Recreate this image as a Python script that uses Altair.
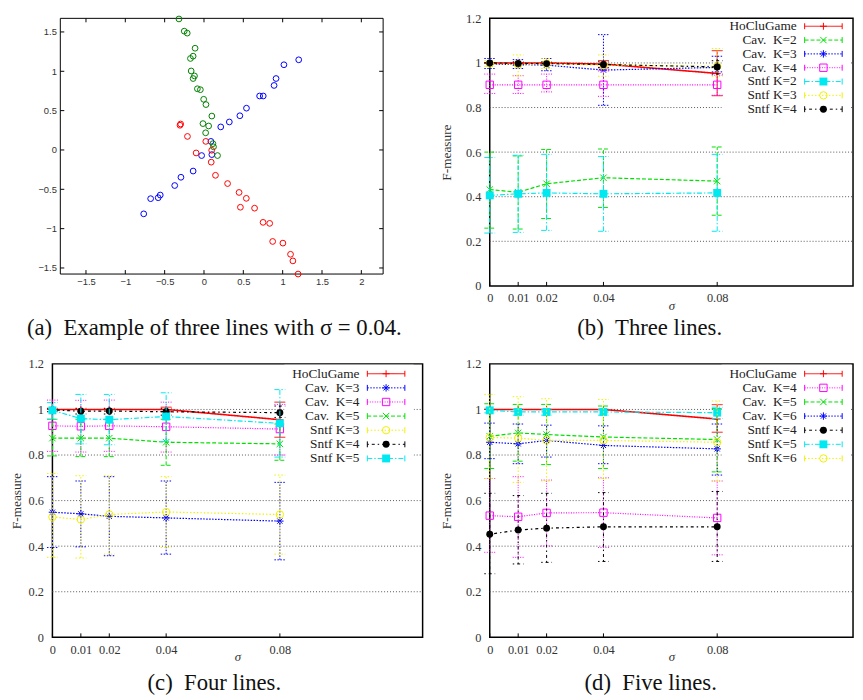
import altair as alt
import pandas as pd

# ---------------- data ----------------
SIGMAS = [0, 0.01, 0.02, 0.04, 0.08]
Y_TICKS = [0, 0.2, 0.4, 0.6, 0.8, 1.0, 1.2]
GRID_Y = [0.2, 0.4, 0.6, 0.8, 1.0]

A_X_TICKS = [-1.5, -1, -0.5, 0, 0.5, 1, 1.5, 2]
A_Y_TICKS = [-1.5, -1, -0.5, 0, 0.5, 1, 1.5]

A_GREEN_X = [-0.318, -0.251, -0.213, -0.113, -0.138, -0.172, -0.163, -0.121, -0.138, -0.084,
             -0.046, -0.004, 0.025, 0.100, -0.013, 0.059, 0.021, 0.113, 0.121, 0.172]
A_GREEN_Y = [1.665, 1.510, 1.485, 1.293, 1.192, 1.163, 1.004, 0.941, 0.908, 0.778,
             0.766, 0.644, 0.577, 0.431, 0.335, 0.305, 0.218, 0.080, 0.040, -0.071]
A_BLUE_X = [1.204, 1.016, 0.916, 0.891, 0.707, 0.753, 0.540, 0.456, 0.322, 0.213,
            0.088, 0.100, -0.030, -0.138, -0.293, -0.372, -0.556, -0.582, -0.678, -0.766]
A_BLUE_Y = [1.146, 1.083, 0.908, 0.820, 0.686, 0.686, 0.531, 0.435, 0.356, 0.293,
            0.109, -0.059, -0.071, -0.268, -0.347, -0.452, -0.573, -0.607, -0.619, -0.812]
A_RED_X = [-0.297, -0.305, -0.210, 0.023, -0.100, 0.098, 0.092, 0.146, 0.300, 0.446,
           0.538, 0.463, 0.643, 0.751, 0.835, 0.873, 1.003, 1.100, 1.130, 1.196]
A_RED_Y = [0.330, 0.314, 0.172, 0.109, -0.038, -0.004, -0.155, -0.322, -0.427, -0.540,
           -0.615, -0.728, -0.740, -0.920, -0.933, -1.163, -1.184, -1.326, -1.410, -1.577]

# (b) three lines
B_HOCLU = [1.0, 1.0, 1.0, 0.995, 0.953]
B_HOCLU_LO = [1.0, 1.0, 1.0, 0.978, 0.853]
B_HOCLU_HI = [1.0, 1.0, 1.0, 1.010, 1.055]
B_CAV2 = [0.432, 0.420, 0.458, 0.485, 0.470]
B_CAV2_LO = [0.259, 0.255, 0.302, 0.352, 0.317]
B_CAV2_HI = [0.600, 0.583, 0.612, 0.614, 0.623]
B_CAV3 = [0.995, 0.993, 0.990, 0.968, 0.980]
B_CAV3_LO = [0.975, 0.975, 0.965, 0.810, 0.960]
B_CAV3_HI = [1.020, 1.015, 1.020, 1.127, 1.030]
B_CAV4 = [0.902, 0.902, 0.902, 0.902, 0.902]
B_CAV4_LO = [0.863, 0.863, 0.870, 0.850, 0.855]
B_CAV4_HI = [0.950, 0.943, 0.950, 0.964, 0.945]
B_SNTF2 = [0.406, 0.413, 0.417, 0.413, 0.417]
B_SNTF2_LO = [0.237, 0.240, 0.249, 0.245, 0.245]
B_SNTF2_HI = [0.576, 0.586, 0.590, 0.580, 0.590]
B_SNTF3 = [0.997, 0.993, 0.997, 0.990, 0.985]
B_SNTF3_LO = [0.985, 0.942, 0.975, 0.940, 0.940]
B_SNTF3_HI = [1.010, 1.036, 1.020, 1.036, 1.065]
B_SNTF4 = [1.0, 0.998, 0.997, 0.993, 0.982]
B_SNTF4_LO = [1.0, 0.990, 0.990, 0.980, 0.950]
B_SNTF4_HI = [1.0, 1.005, 1.005, 1.005, 1.010]

# (c) four lines
C_HOCLU = [1.0, 1.0, 1.0, 1.0, 0.955]
C_HOCLU_LO = [1.0, 1.0, 1.0, 0.990, 0.878]
C_HOCLU_HI = [1.0, 1.0, 1.0, 1.010, 1.032]
C_CAV3 = [0.549, 0.542, 0.531, 0.524, 0.510]
C_CAV3_LO = [0.394, 0.397, 0.358, 0.365, 0.340]
C_CAV3_HI = [0.705, 0.686, 0.705, 0.686, 0.680]
C_CAV4 = [0.928, 0.926, 0.928, 0.924, 0.914]
C_CAV4_LO = [0.816, 0.813, 0.816, 0.813, 0.800]
C_CAV4_HI = [1.041, 1.040, 1.041, 1.032, 1.022]
C_CAV5 = [0.874, 0.874, 0.874, 0.856, 0.849]
C_CAV5_LO = [0.796, 0.793, 0.793, 0.755, 0.777]
C_CAV5_HI = [0.957, 0.957, 0.957, 0.957, 0.936]
C_SNTF3 = [0.528, 0.517, 0.539, 0.550, 0.539]
C_SNTF3_LO = [0.351, 0.348, 0.365, 0.394, 0.365]
C_SNTF3_HI = [0.719, 0.709, 0.709, 0.705, 0.712]
C_SNTF4 = [0.998, 0.992, 0.993, 0.990, 0.986]
C_SNTF4_LO = [0.990, 0.980, 0.980, 0.975, 0.965]
C_SNTF4_HI = [1.005, 1.005, 1.005, 1.005, 1.015]
C_SNTF5 = [0.996, 0.960, 0.955, 0.969, 0.939]
C_SNTF5_LO = [0.957, 0.849, 0.845, 0.859, 0.791]
C_SNTF5_HI = [1.030, 1.066, 1.066, 1.073, 1.087]

# (d) five lines
D_HOCLU = [1.0, 1.0, 1.0, 1.0, 0.958]
D_HOCLU_LO = [1.0, 1.0, 1.0, 1.0, 0.900]
D_HOCLU_HI = [1.0, 1.0, 1.0, 1.0, 1.021]
D_CAV4 = [0.534, 0.529, 0.546, 0.547, 0.524]
D_CAV4_LO = [0.373, 0.351, 0.401, 0.394, 0.362]
D_CAV4_HI = [0.697, 0.705, 0.690, 0.700, 0.686]
D_CAV5 = [0.882, 0.897, 0.890, 0.879, 0.868]
D_CAV5_LO = [0.741, 0.773, 0.758, 0.741, 0.726]
D_CAV5_HI = [1.025, 1.022, 1.022, 1.015, 1.004]
D_CAV6 = [0.856, 0.849, 0.864, 0.842, 0.827]
D_CAV6_LO = [0.784, 0.762, 0.791, 0.762, 0.712]
D_CAV6_HI = [0.940, 0.936, 0.931, 0.928, 0.936]
D_SNTF4 = [0.452, 0.471, 0.479, 0.485, 0.485]
D_SNTF4_LO = [0.279, 0.322, 0.329, 0.333, 0.333]
D_SNTF4_HI = [0.632, 0.622, 0.632, 0.635, 0.640]
D_SNTF5 = [0.996, 0.989, 0.989, 0.989, 0.986]
D_SNTF5_LO = [0.985, 0.975, 0.975, 0.975, 0.960]
D_SNTF5_HI = [1.005, 1.000, 1.000, 1.000, 1.010]
D_SNTF6 = [0.877, 0.874, 0.864, 0.864, 0.856]
D_SNTF6_LO = [0.697, 0.680, 0.686, 0.697, 0.686]
D_SNTF6_HI = [1.066, 1.056, 1.047, 1.044, 1.037]

# ---------------- styles ----------------
SERIF = "Liberation Serif"
SANS = "Liberation Sans"

PLUS = "M-1,0L1,0M0,-1L0,1"
CROSS = "M-1,-1L1,1M-1,1L1,-1"
STAR = "M-1,0L1,0M0,-1L0,1M-0.7,-0.7L0.7,0.7M-0.7,0.7L0.7,-0.7"
CAP_H = "M-1,0L1,0"
CAP_V = "M0,-1L0,1"

STYLES = {
    "red": dict(color="#ff0000", dash=[1, 0], lw=1.6, shape=PLUS, size=49, filled=False),
    "green": dict(color="#00e000", dash=[4, 2], lw=1.2, shape=CROSS, size=42, filled=False),
    "blue": dict(color="#0000ff", dash=[1.5, 1.5], lw=1.2, shape=STAR, size=56, filled=False),
    "magenta": dict(color="#ff00ff", dash=[1, 1.5], lw=1.2, shape="square", size=56, filled=False),
    "cyan": dict(color="#00e8f0", dash=[5, 2, 1.5, 2], lw=1.2, shape="square", size=64, filled=True),
    "yellow": dict(color="#f0f000", dash=[1.5, 2], lw=1.2, shape="circle", size=56, filled=False),
    "black": dict(color="#000000", dash=[1.5, 3, 3, 3], lw=1.2, shape="circle", size=49, filled=True),
}

CAV = "Cav.\u2002"

B_SERIES = [
    ("HoCluGame", "red", B_HOCLU, B_HOCLU_LO, B_HOCLU_HI),
    (CAV + "K=2", "green", B_CAV2, B_CAV2_LO, B_CAV2_HI),
    (CAV + "K=3", "blue", B_CAV3, B_CAV3_LO, B_CAV3_HI),
    (CAV + "K=4", "magenta", B_CAV4, B_CAV4_LO, B_CAV4_HI),
    ("Sntf K=2", "cyan", B_SNTF2, B_SNTF2_LO, B_SNTF2_HI),
    ("Sntf K=3", "yellow", B_SNTF3, B_SNTF3_LO, B_SNTF3_HI),
    ("Sntf K=4", "black", B_SNTF4, B_SNTF4_LO, B_SNTF4_HI),
]
C_SERIES = [
    ("HoCluGame", "red", C_HOCLU, C_HOCLU_LO, C_HOCLU_HI),
    (CAV + "K=3", "blue", C_CAV3, C_CAV3_LO, C_CAV3_HI),
    (CAV + "K=4", "magenta", C_CAV4, C_CAV4_LO, C_CAV4_HI),
    (CAV + "K=5", "green", C_CAV5, C_CAV5_LO, C_CAV5_HI),
    ("Sntf K=3", "yellow", C_SNTF3, C_SNTF3_LO, C_SNTF3_HI),
    ("Sntf K=4", "black", C_SNTF4, C_SNTF4_LO, C_SNTF4_HI),
    ("Sntf K=5", "cyan", C_SNTF5, C_SNTF5_LO, C_SNTF5_HI),
]
D_SERIES = [
    ("HoCluGame", "red", D_HOCLU, D_HOCLU_LO, D_HOCLU_HI),
    (CAV + "K=4", "magenta", D_CAV4, D_CAV4_LO, D_CAV4_HI),
    (CAV + "K=5", "green", D_CAV5, D_CAV5_LO, D_CAV5_HI),
    (CAV + "K=6", "blue", D_CAV6, D_CAV6_LO, D_CAV6_HI),
    ("Sntf K=4", "black", D_SNTF4, D_SNTF4_LO, D_SNTF4_HI),
    ("Sntf K=5", "cyan", D_SNTF5, D_SNTF5_LO, D_SNTF5_HI),
    ("Snft K=6", "yellow", D_SNTF6, D_SNTF6_LO, D_SNTF6_HI),
]


def one_row():
    return pd.DataFrame({"k": [0]})


def caption_layer(text, x, y):
    return alt.Chart(one_row()).mark_text(
        text=text, font=SERIF, fontSize=23, align="center", baseline="alphabetic", color="#111"
    ).encode(x=alt.value(x), y=alt.value(y))


def scatter_panel():
    k = 79.7          # pixels per unit (equal aspect)
    W, H = 335, 259   # view; frame starts 8px in from the left
    x0 = -1.826 - 8 / k
    y0 = -1.577
    xs = alt.Scale(domain=[x0, x0 + W / k], nice=False, zero=False)
    ys = alt.Scale(domain=[y0, y0 + H / k], nice=False, zero=False)
    xaxis = alt.Axis(values=A_X_TICKS, format="~g", tickSize=0, domain=False, grid=False,
                     labelFont=SANS, labelFontSize=9.5, labelColor="#333", labelPadding=3,
                     labelFlush=False, labelOverlap=False)
    yaxis = alt.Axis(values=A_Y_TICKS, format="~g", tickSize=0, domain=False, grid=False,
                     labelFont=SANS, labelFontSize=9.5, labelColor="#333", labelPadding=4,
                     labelFlush=False, labelOverlap=False, offset=-8)

    def X(f):
        return alt.X(f, type="quantitative", scale=xs, axis=xaxis, title=None)

    def Y(f):
        return alt.Y(f, type="quantitative", scale=ys, axis=yaxis, title=None)

    pts = pd.concat([
        pd.DataFrame({"x": A_BLUE_X, "y": A_BLUE_Y, "line": "blue"}),
        pd.DataFrame({"x": A_GREEN_X, "y": A_GREEN_Y, "line": "green"}),
        pd.DataFrame({"x": A_RED_X, "y": A_RED_Y, "line": "red"}),
    ], ignore_index=True)
    xt = pd.DataFrame({"t": A_X_TICKS})
    yt = pd.DataFrame({"t": A_Y_TICKS})

    layers = [
        alt.Chart(one_row()).mark_rect(fill="white", stroke="black", strokeWidth=1).encode(
            x=alt.value(8), x2=alt.value(W), y=alt.value(0), y2=alt.value(H)),
        alt.Chart(xt).mark_rule(color="black", strokeWidth=1).encode(
            x=X("t"), y=alt.value(H), y2=alt.value(H - 4)),
        alt.Chart(xt).mark_rule(color="black", strokeWidth=1).encode(
            x=X("t"), y=alt.value(0), y2=alt.value(4)),
        alt.Chart(yt).mark_rule(color="black", strokeWidth=1).encode(
            y=Y("t"), x=alt.value(8), x2=alt.value(12)),
        alt.Chart(yt).mark_rule(color="black", strokeWidth=1).encode(
            y=Y("t"), x=alt.value(W), x2=alt.value(W - 4)),
        alt.Chart(pts).mark_point(filled=False, size=34, strokeWidth=1, opacity=1).encode(
            x=X("x"), y=Y("y"),
            color=alt.Color("line:N", scale=alt.Scale(domain=["blue", "green", "red"],
                                                      range=["#0000ff", "#008000", "#ff0000"]),
                            legend=None)),
        caption_layer("(a)\u2002Example of three lines with \u03c3 = 0.04.", 164, 321),
    ]
    return alt.layer(*layers).properties(
        width=W, height=H, view=alt.ViewBackground(stroke="transparent"))


def line_panel(series, width, height, title_pad, leg_top, leg_step, box_h, caption, cap_x, cap_y):
    xmax = width / 2880.0
    xs = alt.Scale(domain=[0, xmax], nice=False, zero=False)
    ys = alt.Scale(domain=[0, 1.2], nice=False, zero=False)
    xaxis = alt.Axis(values=SIGMAS, format="~g", tickSize=0, domain=False, grid=False,
                     labelFont=SERIF, labelFontSize=12.5, labelColor="#333", labelPadding=6,
                     labelFlush=False, labelOverlap=False,
                     titleFont=SERIF, titleFontSize=13, titleFontStyle="italic",
                     titleFontWeight="normal", titleColor="#333", titlePadding=-5)
    yaxis = alt.Axis(values=Y_TICKS, format="~g", tickSize=0, domain=False, grid=False,
                     labelFont=SERIF, labelFontSize=12.5, labelColor="#333", labelPadding=9,
                     labelFlush=False, labelOverlap=False,
                     titleFont=SERIF, titleFontSize=13.5, titleFontWeight="normal",
                     titleColor="#333", titlePadding=title_pad)

    def X(f):
        return alt.X(f, type="quantitative", scale=xs, axis=xaxis, title="\u03c3")

    def Y(f):
        return alt.Y(f, type="quantitative", scale=ys, axis=yaxis, title="F-measure")

    layers = [
        alt.Chart(pd.DataFrame({"g": GRID_Y})).mark_rule(
            color="#555", strokeDash=[1, 2], strokeWidth=1).encode(
            y=Y("g"), x=alt.value(0), x2=alt.value(width)),
        alt.Chart(pd.DataFrame({"t": SIGMAS})).mark_rule(color="black", strokeWidth=1).encode(
            x=X("t"), y=alt.value(height), y2=alt.value(height - 4)),
        alt.Chart(one_row()).mark_rect(fill="white").encode(
            x=alt.value(235), x2=alt.value(366), y=alt.value(1), y2=alt.value(box_h)),
    ]
    for i, (name, key, mean, lo, hi) in enumerate(series):
        st = STYLES[key]
        df = pd.DataFrame({"sigma": SIGMAS, "mean": mean, "lo": lo, "hi": hi})
        base = alt.Chart(df)
        layers.append(base.mark_rule(color=st["color"], strokeDash=st["dash"], strokeWidth=1).encode(
            x=X("sigma"), y=Y("lo"), y2=alt.Y2("hi")))
        layers.append(base.transform_fold(["lo", "hi"], as_=["which", "v"]).mark_point(
            shape=CAP_H, size=121, filled=False, color=st["color"], strokeWidth=1, opacity=1,
            strokeDash=st["dash"]).encode(x=X("sigma"), y=Y("v")))
        layers.append(base.mark_line(color=st["color"], strokeDash=st["dash"], strokeWidth=st["lw"]).encode(
            x=X("sigma"), y=Y("mean")))
        layers.append(base.mark_point(shape=st["shape"], size=st["size"], filled=st["filled"],
                                      color=st["color"], strokeWidth=1, opacity=1).encode(
            x=X("sigma"), y=Y("mean")))

        ly = leg_top + i * leg_step
        leg = alt.Chart(pd.DataFrame({"name": [name]}))
        layers.append(leg.mark_text(align="right", baseline="middle", font=SERIF, fontSize=13.5,
                                    color="#222").encode(text="name:N", x=alt.value(311), y=alt.value(ly)))
        layers.append(leg.mark_rule(color=st["color"], strokeDash=st["dash"], strokeWidth=1).encode(
            x=alt.value(319), x2=alt.value(357), y=alt.value(ly)))
        for cx in (319, 357):
            layers.append(leg.mark_point(shape=CAP_V, size=36, filled=False, color=st["color"],
                                         strokeWidth=1, opacity=1).encode(x=alt.value(cx), y=alt.value(ly)))
        layers.append(leg.mark_point(shape=st["shape"], size=st["size"], filled=st["filled"],
                                     color=st["color"], strokeWidth=1, opacity=1).encode(
            x=alt.value(338), y=alt.value(ly)))

    layers.append(caption_layer(caption, cap_x, cap_y))
    return alt.layer(*layers).properties(width=width, height=height)


pa = scatter_panel()
pb = line_panel(B_SERIES, 368, 271, 12, 8, 14.0, 98, "(b)\u2002Three lines.", 162, 321)
pc = line_panel(C_SERIES, 375, 277, 5, 10, 14.3, 104, "(c)\u2002Four lines.", 164, 330)
pd_ = line_panel(D_SERIES, 368, 277, 12, 10, 14.3, 104, "(d)\u2002Five lines.", 163, 330)

chart = alt.concat(
    pa, pb, pc, pd_, columns=2, spacing={"row": 79, "column": 68}, bounds="flush", align="each"
).properties(
    padding={"left": 0, "top": -1, "right": 0, "bottom": 0}, background="white"
).configure_view(stroke="black", strokeWidth=1.5)

chart.save("out.html", embed_options={"renderer": "svg", "actions": False})
